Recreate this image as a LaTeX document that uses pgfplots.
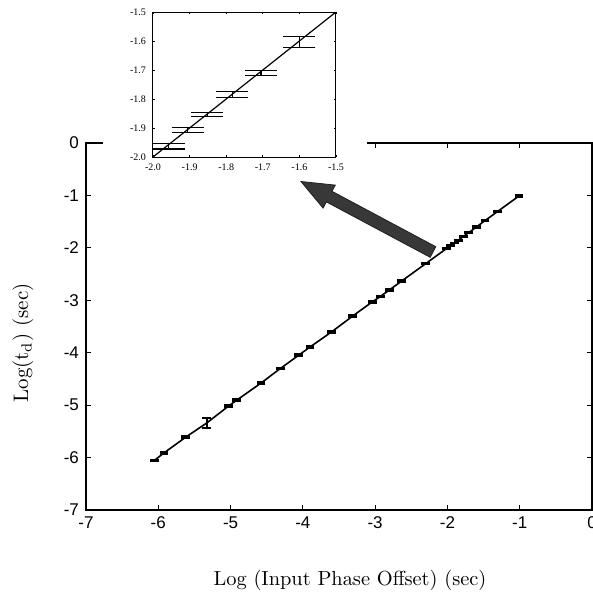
\documentclass[border=0pt]{standalone}
\usepackage{pgfplots}
\pgfplotsset{compat=1.18}
\usepackage{fontspec}
\newfontfamily\ticksf{Liberation Sans}
\newfontfamily\tickrm{Liberation Serif}

\begin{document}
\begin{tikzpicture}
\begin{scope}[x=0.5pt,y=-0.5pt]
\coordinate (mainSW) at (86,510);
\coordinate (insetSW) at (153,157);
\end{scope}

\begin{axis}[at={(mainSW)}, anchor=south west, scale only axis,
  width=253pt, height=183.5pt,
  xmin=-7, xmax=0, ymin=-7, ymax=0,
  xtick={-7,-6,-5,-4,-3,-2,-1,0}, ytick={-7,-6,-5,-4,-3,-2,-1,0},
  tick align=inside, major tick length=2.5pt,
  axis line style={line width=0.6pt},
  tick style={line width=0.6pt, black},
  /pgf/number format/assume math mode=true,
  tick label style={font=\ticksf\fontsize{8.5}{10}\selectfont},
  ]
\addplot[black, line width=0.8pt, mark=none,
  error bars/.cd, y dir=both, y explicit,
  error bar style={line width=0.8pt, black},
  error mark options={rotate=90, mark size=2.2pt, line width=1pt, black}]
coordinates {
(-6.05,-6.05) +- (0,0.012)
(-5.92,-5.91) +- (0,0.015)
(-5.62,-5.61) +- (0,0.015)
(-5.33,-5.34) +- (0,0.095)
(-5.03,-5.02) +- (0,0.02)
(-4.92,-4.91) +- (0,0.02)
(-4.58,-4.58) +- (0,0.02)
(-4.31,-4.30) +- (0,0.015)
(-4.06,-4.05) +- (0,0.02)
(-3.90,-3.89) +- (0,0.02)
(-3.60,-3.60) +- (0,0.015)
(-3.31,-3.30) +- (0,0.015)
(-3.04,-3.03) +- (0,0.02)
(-2.93,-2.93) +- (0,0.015)
(-2.80,-2.80) +- (0,0.015)
(-2.63,-2.63) +- (0,0.015)
(-2.30,-2.30) +- (0,0.015)
(-2.01,-2.01) +- (0,0.01)
(-1.96,-1.963) +- (0,0.0095)
(-1.905,-1.907) +- (0,0.0095)
(-1.852,-1.854) +- (0,0.007)
(-1.783,-1.785) +- (0,0.0105)
(-1.705,-1.710) +- (0,0.009)
(-1.60,-1.603) +- (0,0.019)
(-1.48,-1.48) +- (0,0.015)
(-1.31,-1.31) +- (0,0.015)
(-1.01,-1.01) +- (0,0.012)
};
\end{axis}

\begin{scope}[x=0.5pt,y=-0.5pt]
\fill[white] (103,0) rectangle (367,178);
\end{scope}

\begin{axis}[at={(insetSW)}, anchor=south west, scale only axis,
  width=91.5pt, height=72.5pt,
  xmin=-2, xmax=-1.5, ymin=-2, ymax=-1.5,
  xtick={-2,-1.9,-1.8,-1.7,-1.6,-1.5}, ytick={-2,-1.9,-1.8,-1.7,-1.6,-1.5},
  tick align=inside, major tick length=1.2pt,
  axis line style={line width=0.5pt},
  tick style={line width=0.4pt, black},
  /pgf/number format/assume math mode=true,
  /pgf/number format/.cd, fixed, fixed zerofill, precision=1, /pgfplots/.cd,
  tick label style={font=\tickrm\fontsize{5}{6}\selectfont},
  ]
\addplot[black, line width=0.6pt, mark=none] coordinates {(-2,-2) (-1.5,-1.5)};
\addplot[draw=none, mark=none,
  error bars/.cd, y dir=both, y explicit,
  error bar style={draw=black, line width=0.6pt},
  error mark options={rotate=90, mark size=8pt, line width=0.6pt, draw=black}]
coordinates {
(-1.957,-1.963) +- (0,0.0095)
(-1.905,-1.907) +- (0,0.0095)
(-1.852,-1.854) +- (0,0.007)
(-1.783,-1.785) +- (0,0.0105)
(-1.705,-1.710) +- (0,0.009)
(-1.600,-1.603) +- (0,0.019)
};
\end{axis}

\begin{scope}[x=0.5pt,y=-0.5pt]
\filldraw[fill=black!78, draw=black!88, line width=0.4pt]
  (301,181.5) -- (335.3,185.1) -- (332,191.3) -- (435.8,246.7)
  -- (430.2,257.3) -- (326.4,201.9) -- (323.1,208.1) -- cycle;
\node[font=\fontsize{10.2}{12}\selectfont] at (350,580) {Log (Input Phase Offset) (sec)};
\node[rotate=90, font=\fontsize{10.5}{12}\selectfont] at (23,343) {Log(t$_{\mathrm{d}}$) (sec)};
\pgfresetboundingbox
\path[use as bounding box] (0,0) rectangle (593,596);
\end{scope}
\end{tikzpicture}
\end{document}
